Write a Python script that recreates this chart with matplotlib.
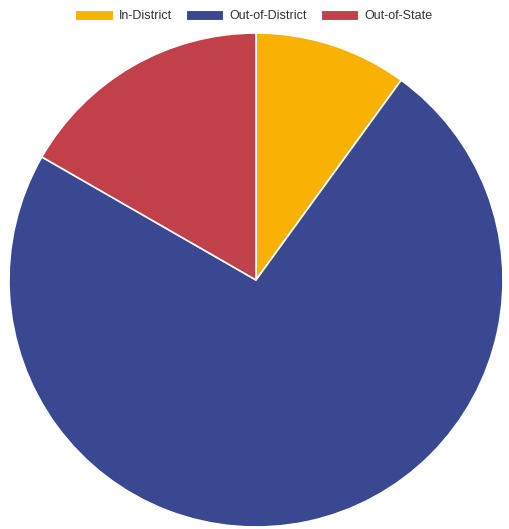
import matplotlib
matplotlib.use("Agg")
import matplotlib.pyplot as plt
from matplotlib.patches import Patch

plt.rcParams['font.family'] = ['Liberation Sans', 'DejaVu Sans']

labels = ['In-District', 'Out-of-District', 'Out-of-State']
values = [10.0, 73.3, 16.7]
colors = ['#F9B104', '#3A4891', '#C2404A']

fig = plt.figure(figsize=(5.10, 5.29), dpi=100)
ax = fig.add_axes([9 / 510, 2 / 529, 494 / 510, 494 / 529])
ax.pie(values, colors=colors, startangle=90, counterclock=False,
       radius=1, wedgeprops=dict(edgecolor='white', linewidth=1.2))
ax.set_xlim(-1, 1)
ax.set_ylim(-1, 1)
ax.set_aspect('equal')
ax.axis('off')

handles = [Patch(facecolor=c, edgecolor='white', linewidth=0.8) for c in colors]
fig.legend(handles, labels, loc='center', bbox_to_anchor=(254 / 510, 1 - 16 / 529),
           ncol=3, frameon=False, fontsize=9, handlelength=3.0, handleheight=0.8,
           handletextpad=0.5, columnspacing=1.1, labelcolor='#333333')

fig.savefig('out.png', dpi=100)
